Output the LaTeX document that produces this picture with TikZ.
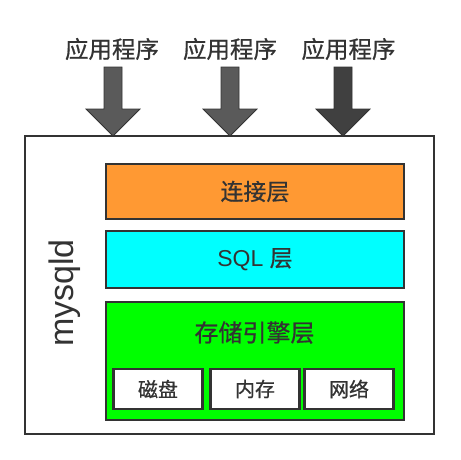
\documentclass[tikz,border=0pt]{standalone}
\usepackage{fontspec}
\setmainfont{Liberation Sans}
\newfontfamily\cjk[FakeBold=0.7]{Noto Sans CJK SC}
\definecolor{linec}{HTML}{333333}
\definecolor{arrowa}{HTML}{5A5A5A}
\definecolor{arrowb}{HTML}{404040}
\definecolor{orangec}{HTML}{FF9933}
\definecolor{cyanc}{HTML}{00FFFF}
\definecolor{greenc}{HTML}{00FF00}
\tikzset{
  layerbox/.style={draw=linec, line width=2.6pt, minimum width=298pt, inner sep=0pt, text=linec, font=\fontsize{23}{27}\selectfont},
  subbox/.style={draw=linec, line width=2.6pt, fill=white, minimum height=40pt, inner sep=0pt, text=linec, font=\cjk\fontsize{20}{24}\selectfont},
  apptext/.style={text=linec, inner sep=0pt, font=\cjk\fontsize{23.5}{28}\selectfont},
  blockarrow/.style={draw=linec, line width=0.8pt, line join=miter}
}
\newcommand{\blockarr}[2]{%
  \draw[blockarrow, fill=#2] (#1-9,67) -- (#1+9,67) -- (#1+9,109) -- (#1+27,109) -- (#1,136) -- (#1-27,109) -- (#1-9,109) -- cycle;}
\begin{document}
\begin{tikzpicture}[x=1pt, y=-1pt]
\useasboundingbox (0,0) rectangle (461,459);
\fill[white] (0,0) rectangle (461,459);
% outer mysqld box
\node[draw=linec, line width=2pt, minimum width=409pt, minimum height=298pt, inner sep=0pt] (outer) at (229.5,285) {};
\node[rotate=90, text=linec, inner sep=0pt, font=\fontsize{34}{38}\selectfont] (mysqld) at (65,293) {mysqld};
% applications
\node[apptext] (app1) at (112,49) {应用程序};
\node[apptext] (app2) at (230,49) {应用程序};
\node[apptext] (app3) at (348.5,49) {应用程序};
\blockarr{113}{arrowa}
\blockarr{230}{arrowa}
\blockarr{343}{arrowb}
% layers
\node[layerbox, fill=orangec, minimum height=55pt] (conn) at (255,191.5) {\cjk 连接层};
\node[layerbox, fill=cyanc, minimum height=57pt] (sql) at (255,259.5) {SQL {\cjk 层}};
\node[layerbox, fill=greenc, minimum height=118pt] (engine) at (255,361) {};
\node[text=linec, inner sep=0pt, font=\cjk\fontsize{24}{28}\selectfont] (enginet) at (254.5,332.5) {存储引擎层};
\node[subbox, minimum width=89pt] (disk) at (158,389) {磁盘};
\node[subbox, minimum width=88.5pt] (mem) at (255,389) {内存};
\node[subbox, minimum width=89pt] (net) at (349,389) {网络};
\end{tikzpicture}
\end{document}
